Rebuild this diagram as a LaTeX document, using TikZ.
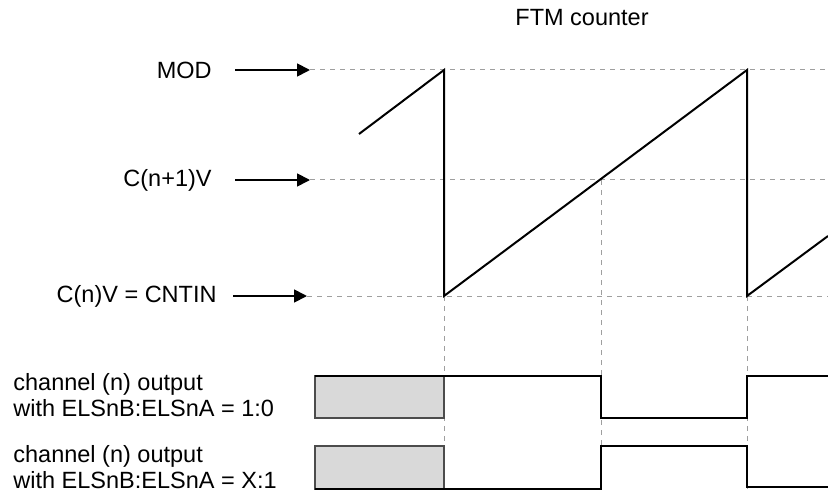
\documentclass[tikz,border=0pt]{standalone}
\usepackage{fontspec}
\setmainfont{Liberation Sans}
\usetikzlibrary{positioning, arrows.meta}

\begin{document}
\begin{tikzpicture}[
        x=0.5pt, y=-0.5pt,
        font=\fontsize{11.75}{13}\selectfont,
        lbl/.style={inner sep=2pt},
        arrow/.style={-{Triangle[length=6.5pt,width=6.5pt]}, line width=0.9pt, shorten <=9.5pt},
        guide/.style={draw=gray!75, line width=0.5pt, dash pattern=on 2.5pt off 2.5pt},
        saw/.style={line width=1pt, line join=miter},
        wave/.style={line width=1.1pt},
        shade/.style={draw=black!70, fill=black!15, line width=0.7pt}
    ]
        \useasboundingbox (0,0) rectangle (828,497);

        % Levels
        \coordinate (modtip) at (310,70);
        \coordinate (midtip) at (310,180);
        \coordinate (lowtip) at (307,296);

        % Sawtooth corners
        \coordinate (s0) at (359,134);
        \coordinate (p1) at (444,70);
        \coordinate (b1) at (444,296);
        \coordinate (cross) at (601,180);
        \coordinate (p2) at (747,70);
        \coordinate (b2) at (747,296);
        \coordinate (s3) at (828,236);

        % Nodes
        \node [lbl] (title) at (582,18) {FTM counter};
        \node [lbl, left=47pt of modtip] (mod) {MOD};
        \node [lbl, left=47pt of midtip] (mid) {C(n+1)V};
        \node [lbl, left=43pt of lowtip] (low) {C(n)V = CNTIN};
        \node [lbl, align=left, anchor=west] (out1) at (9,395) {channel (n) output\\with ELSnB:ELSnA = 1:0};
        \node [lbl, align=left, anchor=west] (out2) at (9,467) {channel (n) output\\with ELSnB:ELSnA = X:1};

        % Guides
        \draw [guide] (modtip) -- (828,70);
        \draw [guide] (midtip) -- (828,180);
        \draw [guide] (lowtip) -- (828,296);
        \draw [guide] (b1) -- (444,489);
        \draw [guide] (cross) -- (601,489);
        \draw [guide] (b2) -- (747,489);

        % Edges
        \draw [arrow] (mod) -- (modtip);
        \draw [arrow] (mid) -- (midtip);
        \draw [arrow, shorten <=6pt] (low) -- (lowtip);

        % Counter
        \draw [saw] (s0) -- (p1) -- (b1) -- (p2) -- (b2) -- (s3);

        % Outputs
        \draw [shade] (315,376) rectangle (444,418);
        \draw [wave] (315,376) -- (601,376) -- (601,418) -- (747,418) -- (747,376) -- (828,376);
        \draw [shade] (315,446) rectangle (444,489);
        \draw [wave] (315,489) -- (601,489) -- (601,446) -- (747,446) -- (747,487) -- (828,487);

    \end{tikzpicture}
\end{document}
